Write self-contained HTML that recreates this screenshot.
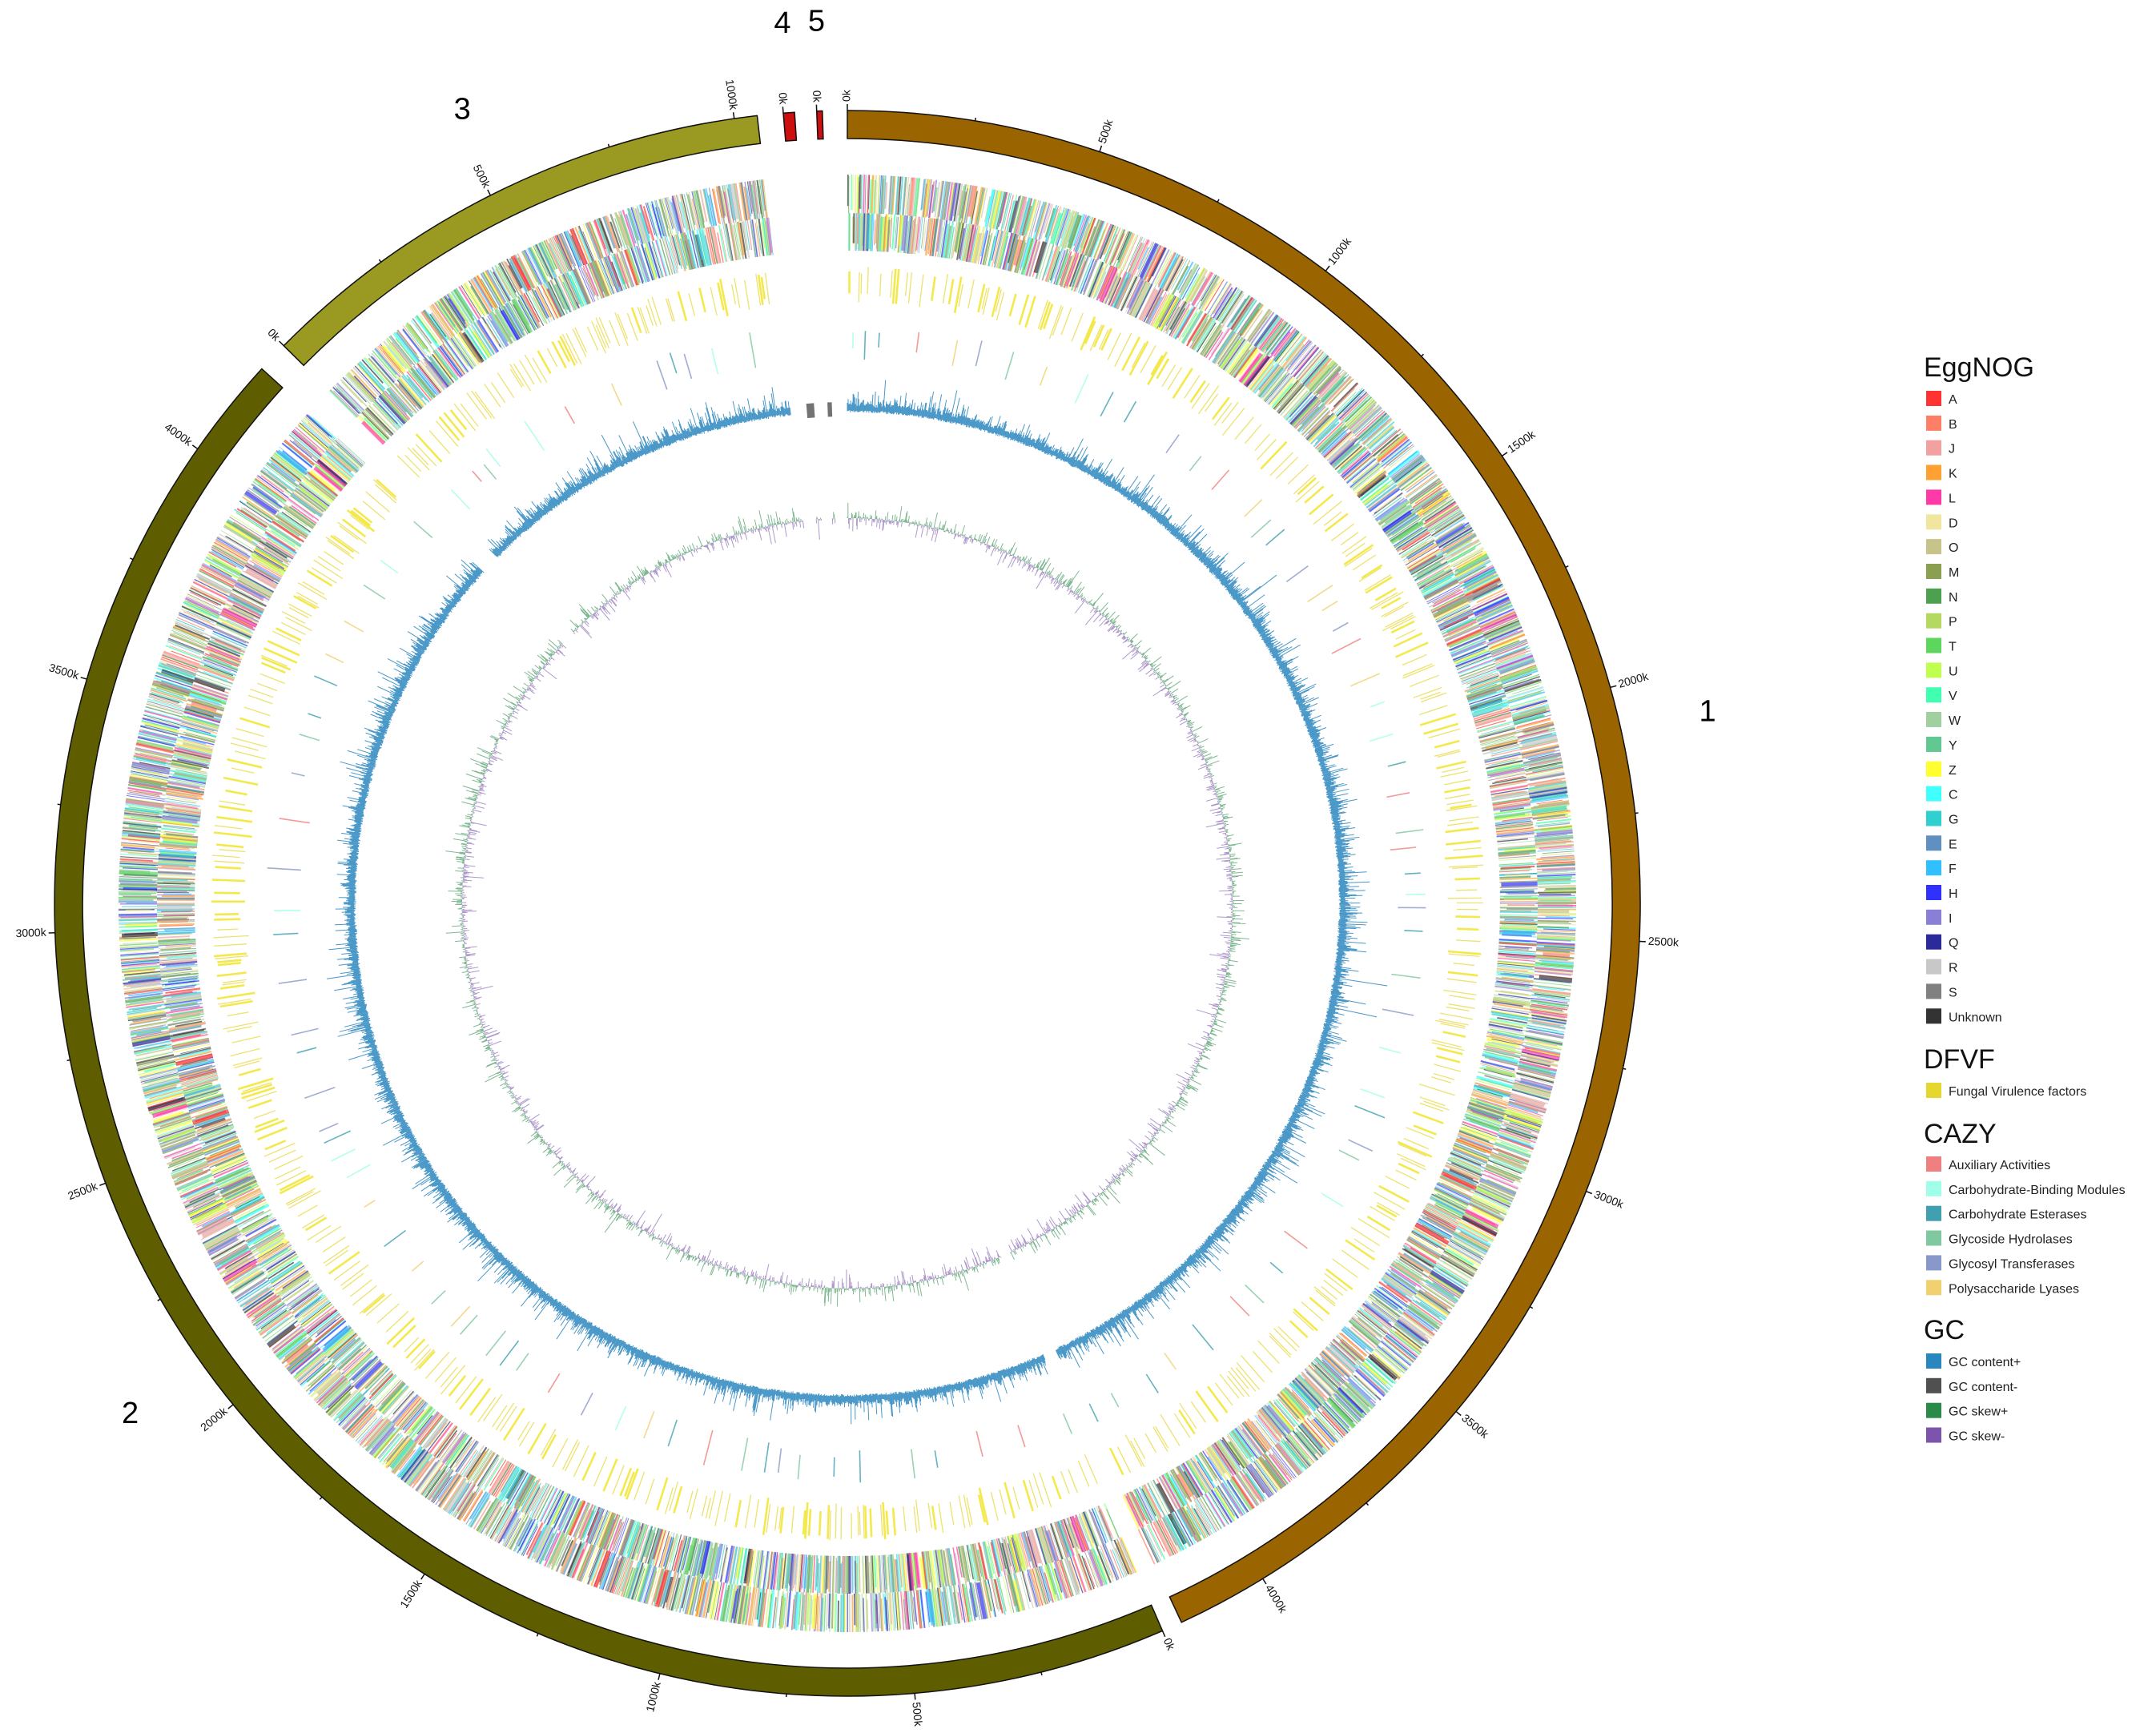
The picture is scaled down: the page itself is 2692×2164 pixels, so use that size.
<!DOCTYPE html>
<html><head><meta charset="utf-8">
<style>
html,body{margin:0;padding:0;background:#fff;}
svg{display:block;font-family:"Liberation Sans",sans-serif;}
</style></head>
<body>
<svg id="chart" width="2692" height="2164" viewBox="0 0 2692 2164" xmlns="http://www.w3.org/2000/svg">
<g id="tracks"></g>
<g id="legend"></g>
</svg>
<script>
// ---- data ----
const chrNames = ['1','2','3','4','5'];
const chrLenKb = [4180, 4200, 1045, 22, 11];
const chrGapAfter = [1.5, 2.3, 1.9, 1.6, 1.8];
const chrColors = ['#9a6400','#5e5e00','#9a9a22','#cc1010','#cc1010'];
const eggCats = ['A','B','J','K','L','D','O','M','N','P','T','U','V','W','Y','Z','C','G','E','F','H','I','Q','R','S','Unknown'];
const eggColors = ['#ff3333','#ff7f66','#f2a0a0','#ffa033','#ff3aa8','#f0e6a0','#c8c38a','#8aa050','#4ca050','#b4d860','#5cd65c','#c0ff50','#40ffb0','#a0d0a0','#60c890','#ffff30','#40ffff','#30d0d0','#6090c0','#30c0ff','#3030ff','#8a7fd6','#2a2a9a','#c8c8c8','#808080','#333333'];
const dfvfCats = ['Fungal Virulence factors'];
const dfvfColors = ['#e6d630'];
const cazyCats = ['Auxiliary Activities','Carbohydrate-Binding Modules','Carbohydrate Esterases','Glycoside Hydrolases','Glycosyl Transferases','Polysaccharide Lyases'];
const cazyColors = ['#f08080','#a0ffe8','#40a0b0','#80c8a0','#8898c8','#f0d070'];
const gcCats = ['GC content+','GC content-','GC skew+','GC skew-'];
const gcColors = ['#2a86be','#505050','#2a8a4a','#7a55aa'];

// ---- geometry ----
const cx = 1058, cy = 1128;
const degPerKb = 0.0371;
const chrStart = [];
{let a=0; for(let i=0;i<chrLenKb.length;i++){chrStart.push(a); a+=chrLenKb[i]*degPerKb+chrGapAfter[i];}}
function ang(ci, kb){return chrStart[ci] + kb*degPerKb;}
function px(r,a){const t=a*Math.PI/180;return [cx+r*Math.sin(t), cy-r*Math.cos(t)];}
function f(n){return n.toFixed(1);}
const NS='http://www.w3.org/2000/svg';
const tracks=document.getElementById('tracks');
const legend=document.getElementById('legend');

// deterministic texture generator for dense gene/GC tracks
let seed=12345;
function rnd(){seed=(seed*1103515245+12345)%2147483648;return seed/2147483648;}

function addPath(parent,d,stroke,sw,name,opacity){
  const p=document.createElementNS(NS,'path');
  p.setAttribute('d',d);p.setAttribute('stroke',stroke);p.setAttribute('stroke-width',sw);p.setAttribute('fill','none');
  if(opacity)p.setAttribute('stroke-opacity',opacity);
  
  
  parent.appendChild(p);
}
function radial(a,r0,r1){const p0=px(r0,a),p1=px(r1,a);return 'M'+f(p0[0])+' '+f(p0[1])+'L'+f(p1[0])+' '+f(p1[1]);}

// ---- chromosome ideogram ----
const R1=990,R0=955;
for(let i=0;i<chrLenKb.length;i++){
  const a0=chrStart[i],a1=ang(i,chrLenKb[i]);
  const large=(a1-a0)>180?1:0;
  const o0=px(R1,a0),o1=px(R1,a1),i1=px(R0,a1),i0=px(R0,a0);
  const g=document.createElementNS(NS,'path');
  g.setAttribute('d',`M${f(o0[0])} ${f(o0[1])}A${R1} ${R1} 0 ${large} 1 ${f(o1[0])} ${f(o1[1])}L${f(i1[0])} ${f(i1[1])}A${R0} ${R0} 0 ${large} 0 ${f(i0[0])} ${f(i0[1])}Z`);
  g.setAttribute('fill',chrColors[i]);g.setAttribute('stroke','#111');g.setAttribute('stroke-width','1.5');
  
  
  tracks.appendChild(g);
  let td='';
  for(let kb=0;kb<=chrLenKb[i];kb+=250){
    const major=kb%500===0;
    td+=radial(ang(i,kb),R1,R1+(major?8:4));
    if(major){
      const a=ang(i,kb);const p=px(R1+11,a);
      const t=document.createElementNS(NS,'text');
      const right=a<180;
      t.setAttribute('x',f(p[0]));t.setAttribute('y',f(p[1]));
      t.setAttribute('font-size','14');t.setAttribute('fill','#111');
      t.setAttribute('dominant-baseline','middle');
      t.setAttribute('text-anchor',right?'start':'end');
      t.setAttribute('transform',`rotate(${f(right?a-90:a-270)} ${f(p[0])} ${f(p[1])})`);
      t.textContent=kb+'k';
      
      
      tracks.appendChild(t);
    }
  }
  addPath(tracks,td,'#111',1.5,'chromosome-ticks');
  const mid=(a0+a1)/2;const lp=px(1100,mid);
  const lt=document.createElementNS(NS,'text');
  lt.setAttribute('x',f(lp[0]));lt.setAttribute('y',f(lp[1]));
  lt.setAttribute('font-size','38');lt.setAttribute('text-anchor','middle');lt.setAttribute('dominant-baseline','middle');
  lt.textContent=chrNames[i];
  
  
  tracks.appendChild(lt);
}

// ---- EggNOG gene tracks (two strands) ----
const eggBands=[[862,910],[815,862]];
eggBands.forEach((band,bi)=>{
  const byColor={};
  for(let i=0;i<3;i++){
    let kb=rnd()*2;
    while(kb<chrLenKb[i]){
      const w=0.9+rnd()*2.6;
      if(rnd()<0.78){
        const c=Math.floor(rnd()*eggColors.length);
        const wid=rnd()<0.03?5:(0.8+rnd()*1.4);
        const key=c+'|'+wid.toFixed(1);
        byColor[key]=(byColor[key]||'')+radial(ang(i,kb),band[0]+(rnd()<0.3?rnd()*10:0),band[1]-(rnd()<0.3?rnd()*10:0));
      }
      kb+=w;
    }
  }
  for(const k in byColor){const [c,w]=k.split('|');addPath(tracks,byColor[k],eggColors[+c],w,'eggnog-track-'+(bi+1),0.7);}
});

// ---- DFVF ----
{
  let d1='',d2='';
  for(let i=0;i<3;i++){
    let kb=rnd()*10;
    while(kb<chrLenKb[i]){
      const a=ang(i,kb);
      const off=rnd()*14;
      if(rnd()<0.65) d1+=radial(a,748+off,796-rnd()*10); else d2+=radial(a,748+off,796-off*0.5);
      kb+=4+rnd()*28;
    }
  }
  addPath(tracks,d1,dfvfColors[0],1.3,'dfvf-track',0.7);
  addPath(tracks,d2,'#f0e000',2.6,'dfvf-track-strong',0.7);
}

// ---- CAZY ----
{
  const byC={};
  for(let i=0;i<3;i++){
    let kb=rnd()*60;
    while(kb<chrLenKb[i]){
      const c=Math.floor(rnd()*cazyColors.length);
      const off=rnd()*20;
      byC[c]=(byC[c]||'')+radial(ang(i,kb),678+off,726-rnd()*15);
      kb+=30+rnd()*120;
    }
  }
  for(const c in byC)addPath(tracks,byC[c],cazyColors[c],1.6,'cazy-track',0.8);
}

// ---- GC content ----
{
  let dp='',dn='';
  const base=618;
  for(let i=0;i<chrLenKb.length;i++){
    for(let kb=0;kb<chrLenKb[i];kb+=2.5){
      const a=ang(i,kb);
      let v=(rnd()*rnd()*rnd())*40+rnd()*5+2;
      if(rnd()<0.008)v+=25;
      if(i>=3){dn+=radial(a,base-10,base+8);continue;}
      dp+=radial(a,base-2-rnd()*3,base+v);
    }
  }
  addPath(tracks,dp,gcColors[0],1,'gc-content-track',0.85);
  addPath(tracks,dn,gcColors[1],1.5,'gc-content-negative',0.8);
}

// ---- GC skew ----
{
  let dp='',dn='';
  const base=481;
  for(let i=0;i<chrLenKb.length;i++){
    for(let kb=0;kb<chrLenKb[i];kb+=2.5){
      const a=ang(i,kb);
      const v=(rnd()*rnd()*rnd())*30+1;
      if(rnd()<0.5) dp+=radial(a,base,base+v); else dn+=radial(a,base,base-v);
    }
  }
  addPath(tracks,dp,gcColors[2],1,'gc-skew-positive',0.6);
  addPath(tracks,dn,gcColors[3],1,'gc-skew-negative',0.6);
}

// ---- legend ----
function legTitle(txt,y){
  const t=document.createElementNS(NS,'text');
  t.setAttribute('x','2402');t.setAttribute('y',y);t.setAttribute('font-size','34');t.setAttribute('fill','#111');
  t.textContent=txt;
  
  
  legend.appendChild(t);
}
function legItems(cats,cols,y0){
  cats.forEach((c,k)=>{
    const y=y0+k*30.85;
    const g=document.createElementNS(NS,'g');
    
    
    const r=document.createElementNS(NS,'rect');
    r.setAttribute('x','2405');r.setAttribute('y',f(y-10));r.setAttribute('width','19');r.setAttribute('height','19');r.setAttribute('fill',cols[k]);
    const t=document.createElementNS(NS,'text');
    t.setAttribute('x','2433');t.setAttribute('y',f(y+6));t.setAttribute('font-size','16');t.setAttribute('fill','#222');
    t.textContent=c;
    g.appendChild(r);g.appendChild(t);legend.appendChild(g);
  });
}
legTitle('EggNOG',470);legItems(eggCats,eggColors,498);
legTitle('DFVF',1334);legItems(dfvfCats,dfvfColors,1362);
legTitle('CAZY',1427);legItems(cazyCats,cazyColors,1454);
legTitle('GC',1672);legItems(gcCats,gcColors,1700);
</script>
</body></html>
